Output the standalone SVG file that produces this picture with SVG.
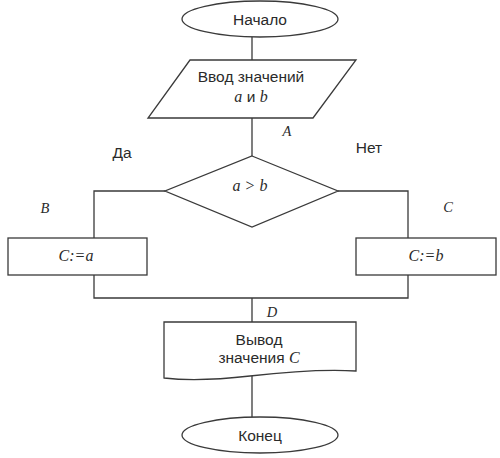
<svg xmlns="http://www.w3.org/2000/svg" width="500" height="458" viewBox="0 0 500 458">
<style>
.s{fill:#fff;stroke:#3a3a3a;stroke-width:1.3}
.c{fill:none;stroke:#3a3a3a;stroke-width:1.3}
.t{font-family:"Liberation Sans",Arial,sans-serif;font-size:15.5px;fill:#2a2a2a;text-anchor:middle}
.i{font-family:"Liberation Serif","Times New Roman",serif;font-style:italic;font-size:16px;fill:#2a2a2a;text-anchor:middle}
.l{font-size:14.5px}
</style>
<rect width="500" height="458" fill="#fff"/>
<g id="connectors">
<path class="c" d="M252,37V60"/>
<path class="c" d="M252,118V156"/>
<path class="c" d="M165,191H94V238"/>
<path class="c" d="M338,191H408V238"/>
<path class="c" d="M94,275V298H408V275"/>
<path class="c" d="M252,298V322"/>
<path class="c" d="M252,376V417"/>
</g>
<g id="start">
<ellipse class="s" cx="260" cy="19" rx="78" ry="18"/>
<text class="t" x="260" y="25">Начало</text>
</g>
<g id="input">
<polygon class="s" points="190,60 356,60 313,118 148,118"/>
<text class="t" x="251" y="82">Ввод значений</text>
<text class="t" x="251" y="102"><tspan class="i">a</tspan> и <tspan class="i">b</tspan></text>
</g>
<g id="decision">
<polygon class="s" points="252,156 338,191 252,227 165,191"/>
<text class="i" x="250" y="191">a &gt; b</text>
</g>
<g id="assignA">
<rect class="s" x="8" y="238" width="139" height="37"/>
<text class="i" x="76" y="261">C:=a</text>
</g>
<g id="assignB">
<rect class="s" x="356" y="238" width="140" height="37"/>
<text class="i" x="426" y="261">C:=b</text>
</g>
<g id="output">
<path class="s" d="M164,322H356V371C320,369 285,372 250,376C215,380 190,381 164,378Z"/>
<text class="t" x="259" y="345">Вывод</text>
<text class="t" x="259" y="363">значения <tspan class="i">C</tspan></text>
</g>
<g id="end">
<ellipse class="s" cx="260" cy="435" rx="78" ry="18"/>
<text class="t" x="260" y="441">Конец</text>
</g>
<g id="labels">
<text class="t" x="122" y="158">Да</text>
<text class="t" x="369" y="153">Нет</text>
<text class="i l" x="287" y="136">A</text>
<text class="i l" x="45" y="213">B</text>
<text class="i l" x="448" y="212">C</text>
<text class="i l" x="272" y="317">D</text>
</g>
</svg>
